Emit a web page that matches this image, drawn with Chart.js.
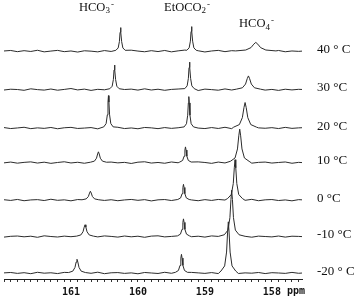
<!DOCTYPE html>
<html>
<head>
<meta charset="utf-8">
<script src="https://cdn.jsdelivr.net/npm/chart.js@4.4.0/dist/chart.umd.min.js"></script>
<style>
html,body{margin:0;padding:0;background:#fff;}
</style>
</head>
<body>
<canvas id="nmr" width="356" height="302"></canvas>
<script>

/* SPECTRA DATA (one entry per temperature, top to bottom) */

const temps=["40 ° C","30 °C","20 °C","10 °C","0 °C","-10 °C","-20 ° C"];
const baselines=[231,192,153,118,80,43,6];

const hco3Ppm=[160.26,160.35,160.44,160.59,160.71,160.79,160.91];
const hco3Height=[24,25,33,11,9,12,14];
const hco3Width=[0.014,0.014,0.014,0.024,0.025,0.025,0.025];

const etPpm=[159.20,159.23,159.24,159.29,159.32,159.32,159.35];
const etHeight=[25,28,32,16,16,18,19];
const etWidth=[0.014,0.014,0.014,0.017,0.017,0.018,0.018];

const hco4Ppm=[158.24,158.35,158.40,158.48,158.55,158.60,158.65];
const hco4Height=[9,14,26,34,41,47,52];
const hco4Width=[0.06,0.036,0.034,0.028,0.022,0.022,0.022];

/* baseline noise, read every 0.1 ppm from 162.0 down */
const noiseStart=162.0;
const noiseStep=0.1;
const noise40=[0.3,0.8,-0.4,0.6,-0.2,1.0,-0.6,0.2,0.9,-0.4,0.3,-0.8,0.5,0.1,-0.6,0.7,-0.2,0.4,-0.7,1.1,0.2,-0.5,0.6,-0.3,0.8,-0.6,0.4,1.2,-0.2,0.5,-0.7,0.3,0.9,-0.4,0.6,-0.5,0.2,0.7,-0.6,0.4,-0.2,0.8,-0.5,0.3,-0.1,0.4];
const noise30=[-0.3,0.5,0.2,-0.6,0.9,0.1,-0.4,0.7,-0.5,0.3,1.2,-0.2,0.6,-0.7,0.4,-0.1,0.8,-0.5,0.2,0.6,-0.4,0.9,-0.3,0.5,-0.6,0.3,0.7,-0.2,0.4,-0.8,0.6,0.1,-0.5,0.8,-0.3,0.5,-0.6,0.2,0.7,-0.4,0.3,-0.7,0.5,-0.2,0.4,0.1];
const noise20=[0.6,-0.4,0.2,0.9,-0.5,0.3,-0.2,0.7,-0.6,0.4,0.8,-0.3,0.1,0.6,-0.7,0.5,-0.1,0.9,-0.4,0.2,-0.6,0.7,0.3,-0.5,0.6,-0.2,0.4,-0.7,0.8,0.1,-0.4,0.6,-0.3,0.9,-0.5,0.2,0.7,-0.6,0.3,-0.1,0.5,-0.4,0.8,-0.2,0.3,0.6];
const noise10=[-0.2,0.6,-0.5,0.3,0.8,-0.4,0.5,-0.7,0.2,0.9,-0.3,0.4,-0.6,0.7,0.1,-0.5,0.6,-0.2,0.3,-0.8,0.5,0.9,-0.4,0.2,-0.6,0.7,-0.1,0.4,-0.5,0.8,0.2,-0.7,0.6,-0.3,0.4,-0.2,0.9,-0.5,0.3,0.6,-0.4,0.2,0.7,-0.6,0.3,-0.1];
const noise0=[0.4,-0.3,0.7,-0.6,0.2,0.5,-0.4,0.9,-0.2,0.3,-0.7,0.6,0.1,-0.5,0.8,-0.3,0.4,-0.6,0.2,0.7,-0.2,0.5,-0.8,0.3,0.6,-0.4,0.9,-0.1,0.2,-0.6,0.5,-0.3,0.7,0.1,-0.5,0.4,-0.2,0.8,-0.6,0.3,0.6,-0.4,0.2,-0.7,0.5,0.1];
const noiseM10=[-0.5,0.3,0.6,-0.2,0.4,-0.7,0.8,0.1,-0.4,0.5,-0.1,0.9,-0.6,0.3,-0.3,0.7,0.2,-0.5,0.6,-0.2,0.4,-0.7,0.5,0.8,-0.3,0.2,-0.6,0.6,-0.1,0.4,-0.5,0.7,0.2,-0.4,0.9,-0.2,0.3,-0.6,0.5,0.1,-0.3,0.6,-0.5,0.4,0.2,-0.2];
const noiseM20=[0.2,0.6,-0.3,0.4,-0.6,0.8,-0.1,0.3,-0.5,0.7,0.1,-0.4,0.6,-0.2,0.9,-0.6,0.3,0.5,-0.3,0.2,-0.7,0.6,0.1,-0.4,0.8,-0.2,0.4,-0.6,0.7,0.2,-0.3,0.5,-0.5,0.3,0.8,-0.4,0.2,-0.1,0.6,-0.5,0.4,0.1,-0.3,0.7,-0.2,0.3];
const noiseRows=[noise40,noise30,noise20,noise10,noise0,noiseM10,noiseM20];

/* axis */
const ppmMin=157.55;
const ppmMax=162.0;
const tickLabels=[161,160,159,158];

/* species labels: name, subscript, ppm of left edge, text baseline */
const speciesNames=["HCO","EtOCO","HCO"];
const speciesSub=["3","2","4"];
const speciesPpm=[160.88,159.61,158.49];
const speciesY=[10.5,10.5,27];


/* PEAK SHAPE (Lorentzian-like outline, in half-width units) */

const profileX=[-5,-2.5,-1.2,-0.5,0,0.5,1.2,2.5,5];
const profileY=[0.04,0.14,0.41,0.8,1,0.8,0.41,0.14,0.04];

function buildSpectrum(i){

const peaks=[
[hco3Ppm[i],hco3Height[i],hco3Width[i]],
[etPpm[i],etHeight[i],etWidth[i]],
[hco4Ppm[i],hco4Height[i],hco4Width[i]]
];

const pts=[];

noiseRows[i].forEach(function(n,k){
const x=Math.round((noiseStart-k*noiseStep)*100)/100;
if(peaks.some(p=>Math.abs(x-p[0])<p[2]*5.5)) return;
pts.push({x:x,y:baselines[i]+n});
});

peaks.forEach(function(p){
profileX.forEach(function(d,k){
pts.push({x:p[0]+d*p[2],y:baselines[i]+profileY[k]*p[1]});
});
});

pts.sort((a,b)=>b.x-a.x);
return pts;

}

const datasets=temps.map(function(t,i){
return {
label:t,
data:buildSpectrum(i),
borderColor:"#2b2b2b",
borderWidth:1,
pointRadius:0,
tension:0,
fill:false
};
});


/* TEXT LABELS */

const labelPlugin={
id:"labels",
afterDraw(chart){

const ctx=chart.ctx;
const xs=chart.scales.x;
const ys=chart.scales.y;
const area=chart.chartArea;

ctx.save();
ctx.fillStyle="#111";

/* temperatures */
ctx.font='13px "Liberation Serif"';
ctx.textAlign="left";
ctx.textBaseline="middle";
temps.forEach(function(t,i){
ctx.fillText(t,area.right+15,ys.getPixelForValue(baselines[i])-2);
});

/* species */
ctx.textBaseline="alphabetic";
speciesNames.forEach(function(name,i){
let x=xs.getPixelForValue(speciesPpm[i]);
const y=speciesY[i];
ctx.font='12.5px "Liberation Serif"';
ctx.fillText(name,x,y);
x+=ctx.measureText(name).width;
ctx.font='9px "Liberation Serif"';
ctx.fillText(speciesSub[i],x,y+2.5);
x+=ctx.measureText(speciesSub[i]).width+1;
ctx.fillText("-",x,y-4);
});

/* ppm unit */
ctx.font='bold 10px "DejaVu Sans Mono"';
ctx.textBaseline="top";
ctx.fillText("ppm",area.right-15,area.bottom+7);

ctx.restore();

}
};


/* CREATE CHART */

new Chart(document.getElementById("nmr"),{

type:"line",

data:{datasets:datasets},

options:{
responsive:false,
animation:false,
devicePixelRatio:1,
layout:{padding:{left:0,right:54,top:0,bottom:0}},

plugins:{
legend:{display:false},
tooltip:{enabled:false}
},

scales:{
x:{
type:"linear",
reverse:true,
min:ppmMin,
max:ppmMax,
afterBuildTicks(scale){
const t=[];
for(let v=ppmMax;v>=ppmMin-1e-9;v-=0.1){
t.push({value:Math.round(v*10)/10});
}
scale.ticks=t;
},
grid:{
drawOnChartArea:false,
tickLength:3,
tickColor:"#333"
},
border:{color:"#222",width:1},
ticks:{
autoSkip:false,
maxRotation:0,
padding:4,
color:"#111",
font:{family:'"DejaVu Sans Mono"',size:10,weight:"bold"},
callback(v){
return tickLabels.includes(Math.round(v*10)/10)?String(Math.round(v)):"";
}
}
},

y:{
display:false,
min:0,
max:283
}
}
},

plugins:[labelPlugin]

});

</script>
</body>
</html>
